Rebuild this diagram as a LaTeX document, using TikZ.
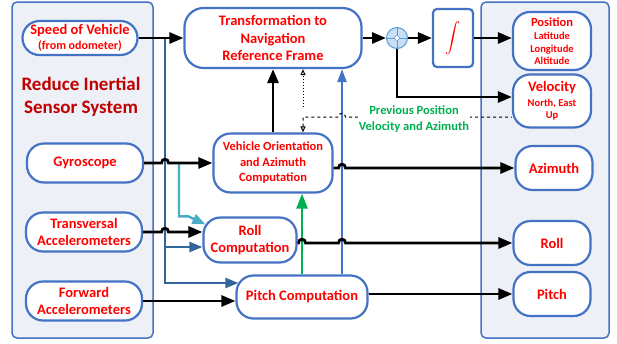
\documentclass[tikz,border=0pt]{standalone}
\usepackage{fontspec}
\setmainfont{Carlito}
\usetikzlibrary{arrows.meta}

\definecolor{boxblue}{HTML}{4472C4}
\definecolor{panelfill}{HTML}{EDF0F6}
\definecolor{steel}{HTML}{31659C}
\definecolor{aqua}{HTML}{4BACC6}
\definecolor{leaf}{HTML}{00B050}
\definecolor{darkred}{HTML}{C00000}
\definecolor{sumfill}{HTML}{C9DFF5}
\definecolor{sumline}{HTML}{5B9BD5}

\newcommand\smalltxt{\fontsize{10.5}{12.5}\selectfont}

\begin{document}
\begin{tikzpicture}[x=1pt,y=-1pt,font=\bfseries,>={Triangle[length=14pt,width=11pt]}]
\tikzstyle{panel}=[draw=boxblue,line width=1.5pt,fill=panelfill,rounded corners=5pt]
\tikzstyle{block}=[draw=boxblue,line width=2.2pt,fill=white,rounded corners=17pt,align=center,text=red,inner sep=0pt]
\tikzstyle{bigtxt}=[font=\fontsize{14.5}{17.5}\selectfont\bfseries]
\tikzstyle{midtxt}=[font=\fontsize{12.5}{15.5}\selectfont\bfseries]
\tikzstyle{wire}=[line width=2.8pt]
\tikzstyle{steelwire}=[draw=steel,line width=2.4pt,-{Triangle[length=13pt,width=10pt]}]
\tikzstyle{aquawire}=[draw=aqua,line width=2.4pt,-{Triangle[length=13pt,width=10pt]}]
\tikzstyle{greenwire}=[draw=leaf,line width=2.6pt,-{Triangle[length=15pt,width=11pt]}]
\tikzstyle{bluewire}=[draw=boxblue,line width=2.2pt,-{Triangle[length=13pt,width=9pt]}]
\tikzset{hop/.style={insert path={-- ([xshift=-3.5pt]#1) .. controls ([shift={(-3.5pt,5pt)}]#1) and ([shift={(3.5pt,5pt)}]#1) .. ([xshift=3.5pt]#1)}}}

\useasboundingbox (0,0) rectangle (617,343);

% sensor side and output side
\draw[panel] (12,2) rectangle (153,338);
\draw[panel] (481,2) rectangle (609,338);
\node[text=darkred,align=center,font=\fontsize{19}{23}\selectfont\bfseries] (rss) at (81,97) {Reduce Inertial\\Sensor System};

% inputs
\node[block,bigtxt,minimum width=115,minimum height=34] (speed) at (80,38)
  {Speed of Vehicle\\[-2pt]\fontsize{12}{12}\selectfont(from odometer)};
\foreach \place/\name/\word in {{(85,163)/gyro/Gyroscope},
                                {(84,232)/trans/Transversal\\Accelerometers},
                                {(84,301)/fwd/Forward\\Accelerometers}}
  \node[block,bigtxt,minimum width=116,minimum height=39] (\name) at \place {\word};

% computation blocks
\node[block,bigtxt,minimum width=177,minimum height=60,rounded corners=19pt] (transf) at (273,38)
  {Transformation to\\Navigation\\Reference Frame};
\node[block,midtxt,minimum width=119,minimum height=59] (orient) at (273,163)
  {Vehicle Orientation\\and Azimuth\\Computation};
\node[block,bigtxt,minimum width=93,minimum height=45] (rollc) at (250,240) {Roll\\Computation};
\node[block,bigtxt,minimum width=131,minimum height=43] (pitchc) at (302,297) {Pitch Computation};

% summing junction and integrator
\node[circle,draw=sumline,fill=sumfill,line width=1pt,minimum size=21pt,inner sep=0pt] (sum) at (397,38) {};
\draw[sumline,line width=0.8pt] (sum.north) -- (sum.south) (sum.west) -- (sum.east);
\draw[sumline,fill=white,line width=0.6pt] ([xshift=-3pt]sum.center) -- ([yshift=3pt]sum.center)
  -- ([xshift=3pt]sum.center) -- ([yshift=-3pt]sum.center) -- cycle;
\node[draw=boxblue,line width=2.2pt,fill=white,rounded corners=4pt,minimum width=40,minimum height=58,inner sep=0pt] (integ) at (453,38)
  {\color{red}\scalebox{1.5}{$\displaystyle\int$}};

% outputs
\node[block,midtxt,minimum width=78,minimum height=58] (pos) at (552,41)
  {Position\\[-2pt]\smalltxt Latitude\\[-3pt]\smalltxt Longitude\\[-3pt]\smalltxt Altitude};
\node[block,bigtxt,minimum width=78,minimum height=53] (vel) at (552,101)
  {Velocity\\[-3pt]\smalltxt North, East\\[-5pt]\smalltxt Up};
\foreach \place/\name/\word in {{(554,168)/az/Azimuth},
                                {(552,243)/roll/Roll},
                                {(552,294)/pitch/Pitch}}
  \node[block,bigtxt,minimum width=77,minimum height=44] (\name) at \place {\word};

% branch points and crossings
\coordinate (vbus) at (165,38);
\coordinate (ab) at (179,163);
\coordinate (bl) at ([xshift=40pt]pitchc.north);
\coordinate (fb) at (303,117);
\coordinate (fbtop) at (303,107);
\coordinate (h1) at (vbus |- gyro.east);
\coordinate (h2) at (vbus |- trans.east);
\coordinate (h3) at (bl |- az.west);
\coordinate (h4) at (pitchc.north |- roll.west);
\coordinate (h5) at (bl |- roll.west);
\coordinate (h6) at (bl |- fb);

% odometer speed feeds roll and pitch
\draw[steelwire] (vbus) |- ([shift={(3pt,14pt)}]pitchc.west);
\draw[steelwire] (vbus |- 0,247) -- (rollc.west |- 0,247);
\draw[aquawire] (ab) |- ([xshift=-14pt]rollc.north west) -- ([shift={(3pt,-8pt)}]rollc.north west);

\draw[wire,->] (speed.east) -- (transf.west);
\draw[wire,->] (gyro.east) [hop=h1] -- (orient.west);
\draw[wire,->] (trans.east) [hop=h2] -- (trans.east -| rollc.west);
\draw[wire,->] (fwd.east) -- (fwd.east -| pitchc.west);

\draw[wire,->] (orient.north) -- (transf.south);
\draw[greenwire] (pitchc.north) -- (pitchc.north |- orient.south);
\draw[bluewire] (bl) -- (bl |- transf.south);

\draw[wire,->] (orient.east |- az.west) [hop=h3] -- (az.west);
\draw[wire,->] (rollc.east |- roll.west) [hop=h4] [hop=h5] -- (roll.west);
\draw[wire,->] (pitchc.east |- pitch.west) -- (pitch.west);

\draw[wire,->] (transf.east) -- (sum.west);
\draw[wire,->] (sum.east) -- (integ.west);
\draw[wire,->] (integ.east) -- (integ.east -| pos.west);
\draw[wire,->] (sum.south) |- ([yshift=4pt]vel.west);

% feedback of the previous state
\draw[dashed,line width=1pt,{Triangle[open,length=6pt,width=5pt]}-] (fb |- orient.north) -- (fb) [hop=h6] -- ([yshift=-16pt]vel.west);
\draw[dotted,line width=1pt,-{Triangle[open,length=6pt,width=5pt]}] (fbtop) -- (fbtop |- transf.south);
\node[fill=white,text=leaf,align=center,midtxt,inner sep=1pt] (prev) at (414,119) {Previous Position\\Velocity and Azimuth};
\end{tikzpicture}
\end{document}
